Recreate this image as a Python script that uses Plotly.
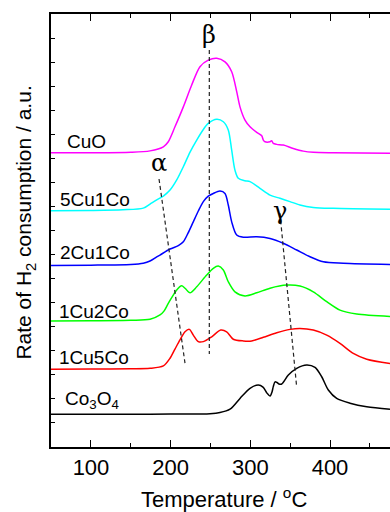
import plotly.graph_objects as go

# ---- data (Temperature in °C, signal in a.u., curves offset as in figure) ----
cuo_T = [49.8, 100, 150, 174.1, 190.8, 197.0, 205.4, 215.9, 226.4, 236.8, 247.2, 257.8, 268.2,
         276.6, 282.9, 287.0, 293.3, 299.6, 308.0, 314.3, 316.3, 318.4, 324.7, 326.8, 328.8,
         333.1, 341.4, 353.9, 366.5, 379.0, 404.1, 475.3]
cuo_y = [12.23, 12.23, 12.25, 12.31, 12.48, 12.69, 13.31, 14.14, 15.05, 15.81, 16.08, 16.16, 16.01,
         15.60, 14.77, 14.14, 13.59, 13.31, 13.08, 12.94, 12.76, 12.69, 12.69, 12.73, 12.62,
         12.58, 12.55, 12.41, 12.30, 12.25, 12.23, 12.21]

c5_T = [49.8, 100, 140, 165.6, 174.1, 182.5, 190.8, 199.2, 207.6, 215.9, 224.3, 232.7, 241.0, 247.2,
        257.8, 266.1, 272.3, 276.6, 280.7, 284.9, 293.3, 299.6, 312.1, 324.7, 337.2, 349.8,
        362.3, 379.0, 404.1, 475.3]
c5_y = [9.82, 9.83, 9.86, 9.93, 10.10, 10.27, 10.43, 10.68, 11.10, 11.65, 12.26, 12.76, 13.20, 13.45,
        13.62, 13.52, 13.18, 12.34, 11.51, 11.17, 11.07, 11.03, 10.75, 10.47, 10.34, 10.20,
        10.06, 9.96, 9.92, 9.88]

c2_T = [49.8, 100, 150, 165.6, 174.1, 182.5, 186.6, 199.2, 209.6, 215.9, 221.8, 228.4, 234.7,
        241.0, 247.2, 253.5, 261.9, 268.2, 272.3, 276.6, 282.9, 291.2, 308.0, 324.7, 341.4,
        358.2, 374.9, 391.6, 416.7, 475.3]
c2_y = [7.55, 7.56, 7.59, 7.64, 7.73, 7.90, 7.98, 8.23, 8.37, 8.53, 8.89, 9.36, 9.81,
        10.20, 10.43, 10.54, 10.64, 10.54, 10.06, 9.36, 8.81, 8.72, 8.74, 8.67, 8.47,
        8.19, 7.91, 7.70, 7.64, 7.59]

g_T = [49.8, 100, 150, 174.1, 186.6, 191.6, 197.0, 207.6, 213.8, 218.0, 224.3, 232.7, 245.2,
       253.5, 259.8, 266.1, 272.3, 280.7, 293.3, 308.0, 324.7, 345.6, 362.3, 379.0, 395.9,
       412.5, 433.5, 475.3]
g_y = [5.24, 5.25, 5.27, 5.31, 5.49, 5.65, 5.97, 6.53, 6.70, 6.60, 6.41, 6.66, 7.15,
       7.43, 7.52, 7.36, 6.87, 6.45, 6.28, 6.41, 6.60, 6.73, 6.69, 6.45, 6.04,
       5.69, 5.53, 5.43]

r_T = [49.8, 100, 150, 174.1, 190.8, 199.2, 205.4, 211.7, 218.0, 223.4, 228.4, 234.7, 241.0,
       251.5, 262.8, 270.3, 278.6, 291.2, 301.7, 316.3, 333.1, 349.8, 362.3, 379.0, 395.9,
       412.5, 429.2, 446.1, 475.3]
r_y = [3.23, 3.24, 3.25, 3.27, 3.37, 3.69, 4.07, 4.45, 4.79, 4.89, 4.65, 4.38, 4.38,
       4.58, 4.86, 4.79, 4.48, 4.41, 4.41, 4.56, 4.75, 4.89, 4.93, 4.86, 4.65,
       4.31, 3.89, 3.65, 3.47]

k_T = [49.8, 100, 150, 200, 236.8, 249.4, 261.9, 274.5, 287.0, 299.6, 310.0, 315.9, 320.9,
       324.7, 327.2, 328.8, 331.0, 333.5, 336.0, 339.4, 347.7, 358.2, 370.8, 381.2, 389.6,
       397.9, 408.4, 425.1, 446.1, 475.3]
k_y = [1.36, 1.36, 1.36, 1.37, 1.37, 1.38, 1.43, 1.57, 2.02, 2.44, 2.58, 2.49, 2.24,
       2.12, 2.29, 2.51, 2.71, 2.68, 2.62, 2.62, 2.99, 3.27, 3.41, 3.31, 2.92,
       2.37, 2.02, 1.82, 1.67, 1.57]

series = [
    ("CuO", cuo_T, cuo_y, "#FF00FF"),
    ("5Cu1Co", c5_T, c5_y, "#00FFFF"),
    ("2Cu1Co", c2_T, c2_y, "#0000FF"),
    ("1Cu2Co", g_T, g_y, "#00FF00"),
    ("1Cu5Co", r_T, r_y, "#FF0000"),
    ("Co3O4", k_T, k_y, "#000000"),
]

labels = ["CuO", "5Cu1Co", "2Cu1Co", "1Cu2Co", "1Cu5Co", "Co<sub>3</sub>O<sub>4</sub>"]
label_T = [67.4, 58.6, 58.6, 57.3, 57.3, 64.9]
label_y = [12.69, 10.27, 8.10, 5.65, 3.70, 1.95]

# guide lines for the alpha, beta, gamma peaks
alpha_T = [185.4, 218.0]
alpha_y = [11.14, 3.48]
beta_T = [248.5, 248.5]
beta_y = [16.50, 3.87]
gamma_T = [337.2, 357.9]
gamma_y = [9.71, 2.58]

greek = ["α", "β", "γ"]
greek_T = [185.4, 248.1, 337.2]
greek_y = [11.80, 17.12, 9.80]

x_ticks = [100, 200, 300, 400]

fig = go.Figure()
for name, T, y, col in series:
    fig.add_trace(go.Scatter(x=T, y=y, mode="lines", name=name,
                             line=dict(color=col, width=1.5, shape="spline", smoothing=0.8),
                             showlegend=False, hoverinfo="skip"))

for T, y in [(alpha_T, alpha_y), (beta_T, beta_y), (gamma_T, gamma_y)]:
    fig.add_trace(go.Scatter(x=T, y=y, mode="lines",
                             line=dict(color="#222222", width=1.2, dash="4px,3px"),
                             showlegend=False, hoverinfo="skip"))

font_sans = "Liberation Sans, Arial, sans-serif"
annotations = []
for txt, t, yv in zip(labels, label_T, label_y):
    annotations.append(dict(x=t, y=yv, xref="x", yref="y", text=txt, showarrow=False,
                            xanchor="left", yanchor="middle",
                            font=dict(family=font_sans, size=19, color="black")))
for txt, t, yv in zip(greek, greek_T, greek_y):
    annotations.append(dict(x=t, y=yv, xref="x", yref="y", text=txt, showarrow=False,
                            xanchor="center", yanchor="middle",
                            font=dict(family="DejaVu Serif, Liberation Serif, serif", size=24, color="black")))
annotations.append(dict(x=0.510, y=-0.117, xref="paper", yref="paper",
                        text="Temperature / <sup>o</sup>C", showarrow=False,
                        xanchor="center", yanchor="middle",
                        font=dict(family=font_sans, size=22, color="black")))
annotations.append(dict(x=-0.077, y=0.518, xref="paper", yref="paper",
                        text="Rate of H<sub>2</sub> consumption / a.u.", showarrow=False,
                        textangle=-90, xanchor="center", yanchor="middle",
                        font=dict(family=font_sans, size=21, color="black")))

fig.update_layout(
    width=390, height=512,
    margin=dict(l=51, r=0, t=14, b=65),
    paper_bgcolor="white", plot_bgcolor="white",
    annotations=annotations,
    xaxis=dict(range=[49.8, 475.3], tickvals=x_ticks, ticktext=[str(v) for v in x_ticks],
               ticks="inside", ticklen=7, tickwidth=1.3, tickcolor="black",
               minor=dict(dtick=50, tick0=0, ticks="inside", ticklen=4, tickwidth=1.3, tickcolor="black"),
               showline=True, linecolor="black", linewidth=1.5, mirror="ticks",
               showgrid=False, zeroline=False,
               tickfont=dict(family=font_sans, size=22, color="black")),
    yaxis=dict(range=[0, 18], dtick=1, tick0=0, ticks="inside", ticklen=4, tickwidth=1.3,
               tickcolor="black", showticklabels=False,
               showline=True, linecolor="black", linewidth=1.5, mirror=False,
               showgrid=False, zeroline=False),
)

fig.write_html("out.html")
